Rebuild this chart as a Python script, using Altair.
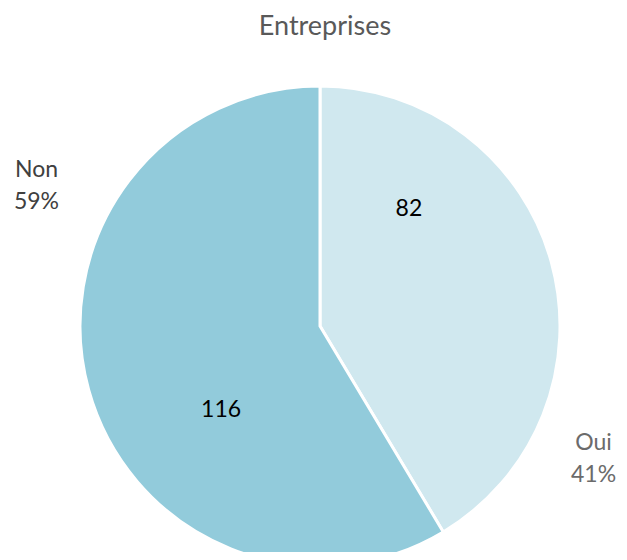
import altair as alt
import pandas as pd

title_text = "Entreprises"
categories = ["Oui", "Non"]
counts = [82, 116]
percents = ["41%", "59%"]

df = pd.DataFrame({
    "cat": categories,
    "count": counts,
    "pct": percents,
    "order": [0, 1],
})

CX, CY = 312, 318
R = 240
FONT = "Lato"

base = alt.Chart(df).encode(
    theta=alt.Theta("count:Q", stack=True),
    order=alt.Order("order:Q"),
)

pie = base.mark_arc(outerRadius=R, stroke="white", strokeWidth=3).encode(
    color=alt.Color("cat:N", scale=alt.Scale(domain=["Oui", "Non"], range=["#d0e8ef", "#92cbdb"]), legend=None),
    x=alt.value(CX), y=alt.value(CY),
)

def label(cat, kind, radius, dx, dy, color):
    if kind == "count":
        expr = f"datum.cat == '{cat}' ? format(datum.count, 'd') : ''"
    else:
        expr = f"datum.cat == '{cat}' ? datum.cat + '\\n' + datum.pct : ''"
    return base.transform_calculate(lbl=expr).mark_text(
        radius=radius, dx=dx, dy=dy, font=FONT, fontSize=23, color=color,
        lineBreak="\n", lineHeight=32, align="center", baseline="middle",
    ).encode(text="lbl:N", x=alt.value(CX), y=alt.value(CY))

title = alt.Chart(pd.DataFrame({"t": [title_text]})).mark_text(
    font=FONT, fontSize=27, color="#595959", align="center", baseline="middle",
).encode(text="t:N", x=alt.value(317), y=alt.value(19))

layers = [
    pie,
    label("Oui", "count", 140, -46, -80, "#000000"),
    label("Non", "count", 140, 36, 47, "#000000"),
    label("Non", "outer", 290, -4, -233, "#404040"),
    label("Oui", "outer", 290, -6, 194, "#6b6b6b"),
    title,
]

chart = alt.layer(*layers).properties(
    width=611, height=544,
    autosize=alt.AutoSizeParams(type="none"),
    padding=0,
).configure_view(stroke=None)

chart.save("out.html", embed_options={"renderer": "svg", "actions": False})
